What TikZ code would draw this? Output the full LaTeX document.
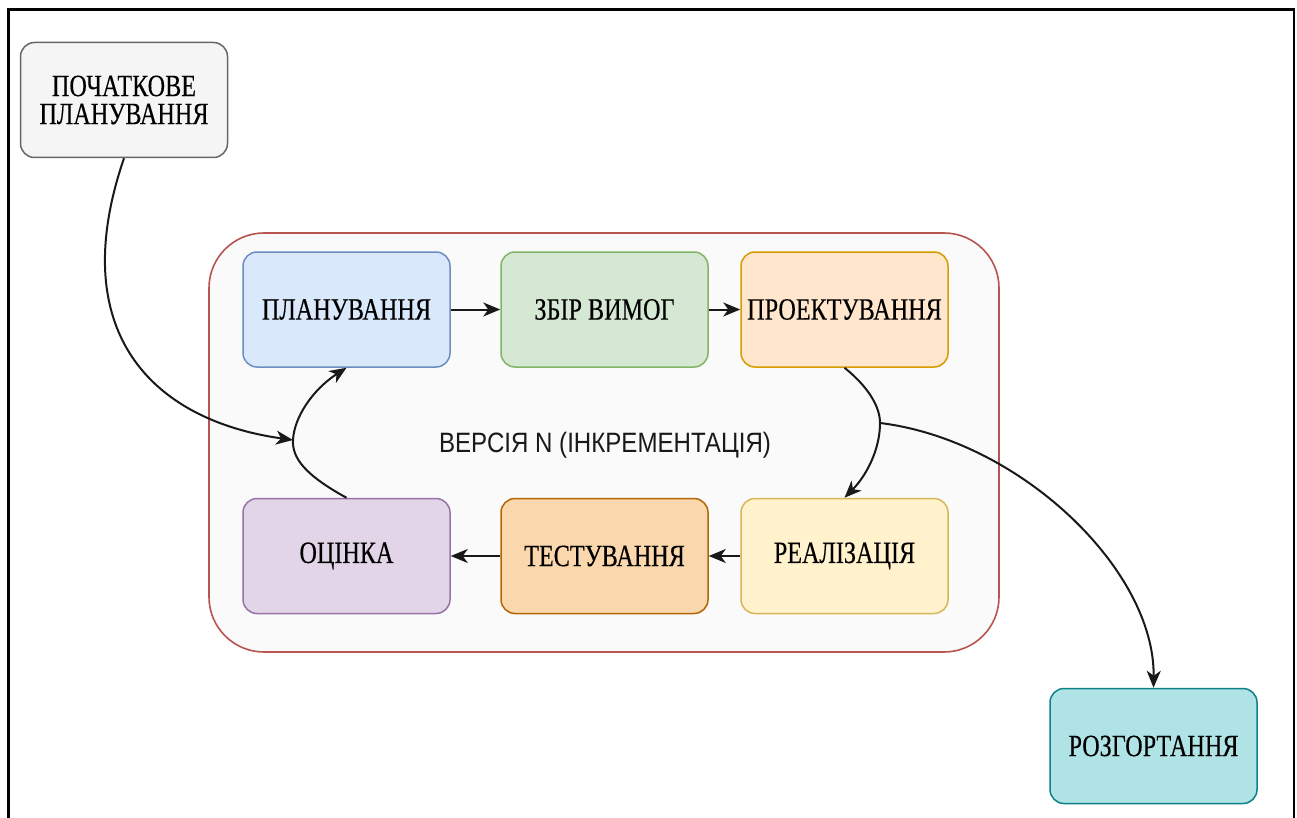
\documentclass[tikz,border=0pt]{standalone}
\usepackage{fontspec}
\setmainfont{Liberation Serif}
\newfontfamily\boxfont{Liberation Serif}[FakeStretch=0.78, FakeBold=0.3]
\newfontfamily\groupfont{Liberation Sans}[FakeStretch=0.86]
\usetikzlibrary{arrows.meta}

% draw.io palette
\definecolor{initfill}{HTML}{F5F5F5}\definecolor{initline}{HTML}{666666}
\definecolor{grpfill}{HTML}{FAFAFA}\definecolor{grpline}{HTML}{B85450}
\definecolor{blfill}{HTML}{DAE8FC}\definecolor{blline}{HTML}{6C8EBF}
\definecolor{grfill}{HTML}{D5E8D4}\definecolor{grline}{HTML}{82B366}
\definecolor{orfill}{HTML}{FFE6CC}\definecolor{orline}{HTML}{D79B00}
\definecolor{pufill}{HTML}{E1D5E7}\definecolor{puline}{HTML}{9673A6}
\definecolor{dofill}{HTML}{FAD7AC}\definecolor{doline}{HTML}{B46504}
\definecolor{yefill}{HTML}{FFF2CC}\definecolor{yeline}{HTML}{D6B656}
\definecolor{tefill}{HTML}{B0E3E6}\definecolor{teline}{HTML}{0E8088}

\tikzset{
  stagebox/.style 2 args={draw=#2, fill=#1, line width=1.5pt,
    rounded corners=14pt, minimum width=207pt, minimum height=115pt,
    inner sep=0pt, align=center,
    font=\boxfont\fontsize{31}{28}\selectfont},
  flow/.style={draw=black!90, line width=2pt,
    -{Stealth[length=17pt,width=14pt,inset=5pt]}},
}

\begin{document}
\begin{tikzpicture}[x=1pt, y=-1pt]
  \useasboundingbox (0,0) rectangle (1297,818);

  % outer frame (open at the bottom)
  \draw[line width=2.5pt, black] (8.5,820) -- (8.5,9.5) -- (1294,9.5) -- (1294,820);

  % iteration group
  \draw[draw=grpline, fill=grpfill, line width=1.6pt, rounded corners=55pt]
    (209,233) rectangle (999,652);
  \node[font=\groupfont\fontsize{28}{30}\selectfont, text=black!90] (grp) at (605,445)
    {ВЕРСІЯ N (ІНКРЕМЕНТАЦІЯ)};

  % stages
  \node[stagebox={initfill}{initline}] (init) at (124,100) {ПОЧАТКОВЕ\\ПЛАНУВАННЯ};
  \node[stagebox={blfill}{blline}] (plan) at (346.5,309.5) {ПЛАНУВАННЯ};
  \node[stagebox={grfill}{grline}] (req) at (604.5,309.5) {ЗБІР ВИМОГ};
  \node[stagebox={orfill}{orline}] (design) at (844.5,309.5) {ПРОЕКТУВАННЯ};
  \node[stagebox={pufill}{puline}] (eval) at (346.5,556) {ОЦІНКА};
  \node[stagebox={dofill}{doline}] (test) at (604.5,556) {ТЕСТУВАННЯ};
  \node[stagebox={yefill}{yeline}] (impl) at (844.5,556) {РЕАЛІЗАЦІЯ};
  \node[stagebox={tefill}{teline}] (deploy) at (1153.5,746) {РОЗГОРТАННЯ};

  % junction points where edges meet
  \coordinate (jin) at (293,440);
  \coordinate (jout) at (880,423);

  % straight transitions
  \draw[flow] (plan.east) -- (req.west);
  \draw[flow] (req.east) -- (design.west);
  \draw[flow] (impl.west) -- (test.east);
  \draw[flow] (test.west) -- (eval.east);

  % curved transitions
  \draw[flow] (init.south) .. controls (65,330) and (150,420) .. (jin);
  \draw[flow] (eval.north) .. controls (305,475) and (292,458) .. (jin)
                           .. controls (294,418) and (312,390) .. (plan.south);
  \draw[flow] (design.south) .. controls (866,385) and (880,405) .. (jout)
                             .. controls (880,450) and (866,476) .. (impl.north);
  \draw[flow] (jout) .. controls (1020,440) and (1155,570) .. (deploy.north);
\end{tikzpicture}
\end{document}
